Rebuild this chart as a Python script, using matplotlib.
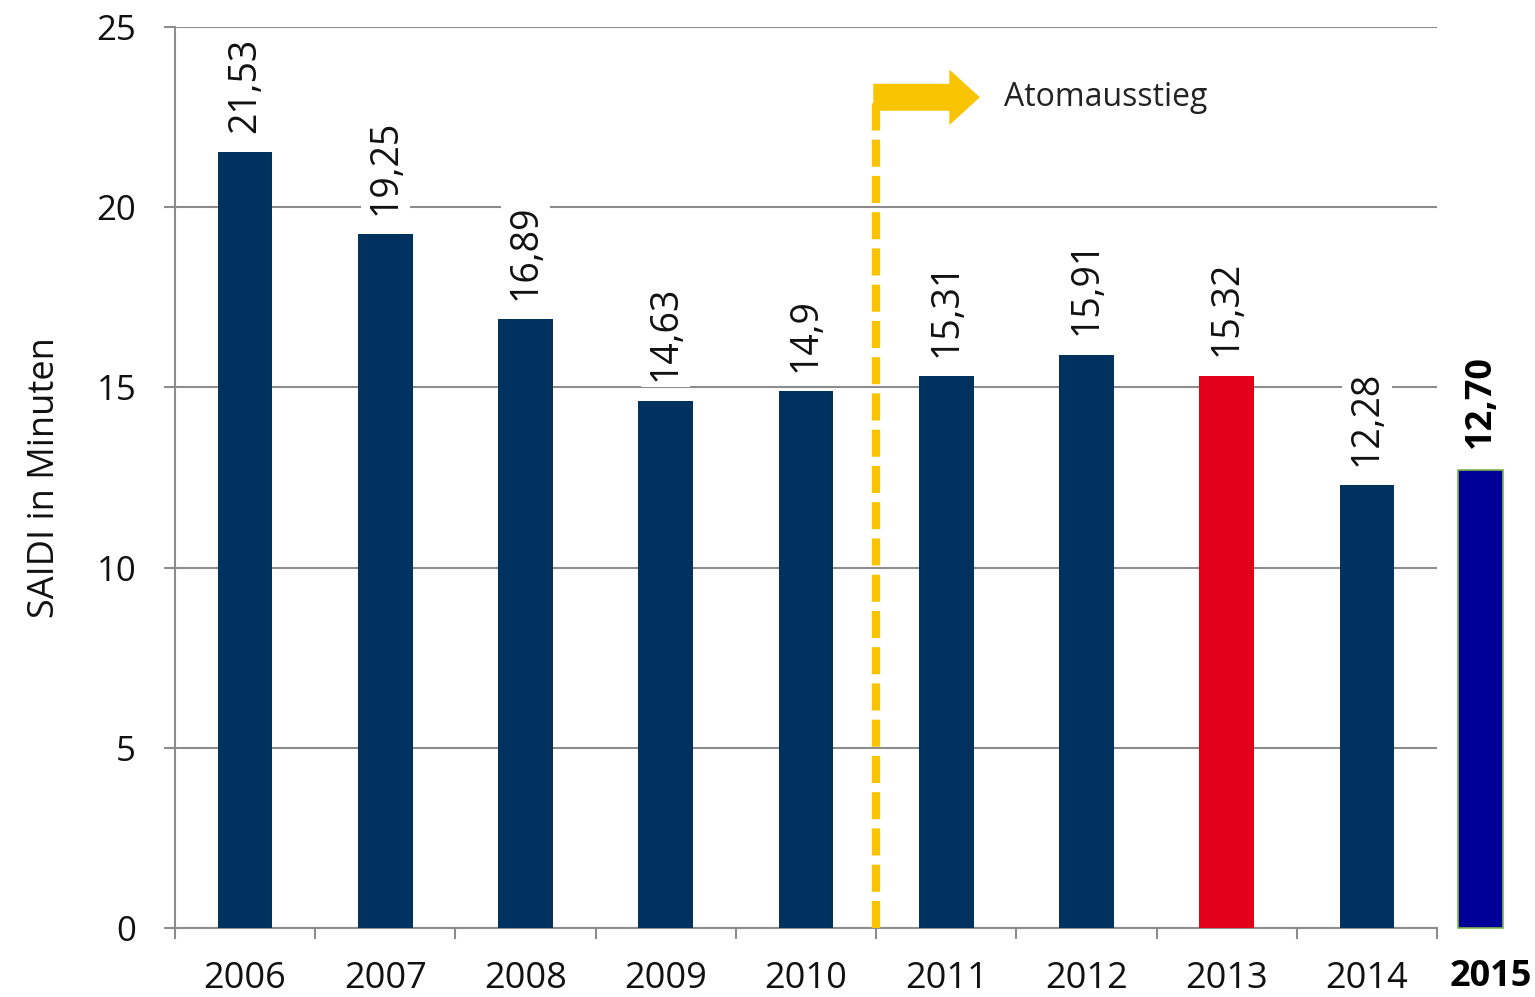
import numpy as np
import matplotlib.pyplot as plt

years = ['2006', '2007', '2008', '2009', '2010', '2011', '2012', '2013', '2014']
saidi = [21.53, 19.25, 16.89, 14.63, 14.9, 15.31, 15.91, 15.32, 12.28]
value_labels = ['21,53', '19,25', '16,89', '14,63', '14,9', '15,31', '15,91', '15,32', '12,28']
new_year = '2015'
new_value = 12.70
new_label = '12,70'

plt.rcParams['font.family'] = ['Open Sans', 'DejaVu Sans']

fig = plt.figure(figsize=(15.35, 9.97), dpi=100)
ax = fig.add_axes([175 / 1535, 1 - 928 / 997, (1437 - 175) / 1535, (928 - 27) / 997])

x = np.arange(len(years))
colors = ['#00325F'] * len(years)
colors[years.index('2013')] = '#E2001A'
ax.bar(x, saidi, width=0.39, color=colors, zorder=3)

for xi, v, lab in zip(x, saidi, value_labels):
    ax.annotate(lab, (xi, v), xytext=(0, 14), textcoords='offset points',
                rotation=90, ha='center', va='bottom', fontsize=27, color='#111111',
                bbox=dict(boxstyle='square,pad=0.15', fc='white', ec='none'), zorder=4)

# 2015 sits outside the plotting area
xn = 8.81
ax.bar([xn], [new_value], width=0.32, color='#000099', edgecolor='#7AB648',
       linewidth=1.2, zorder=3, clip_on=False)
ax.annotate(new_label, (xn, new_value), xytext=(0, 16), textcoords='offset points',
            rotation=90, ha='center', va='bottom', fontsize=26, fontweight='bold',
            color='black', annotation_clip=False)
ax.text(8.88, -1.36, new_year, ha='center', va='center', fontsize=26, fontweight='bold')

# Atomausstieg marker
ax.plot([4.5, 4.5], [0, 23.1], color='#F8C400', lw=6, ls=(0, (3.25, 1.1)), zorder=5)
ax.annotate('', xy=(5.24, 23.05), xytext=(4.48, 23.05),
            arrowprops=dict(arrowstyle='simple,head_length=1.1,head_width=2.0,tail_width=0.97',
                            mutation_scale=20, fc='#F8C400', ec='none', shrinkA=0, shrinkB=0),
            zorder=5)
ax.text(5.41, 23.05, 'Atomausstieg', ha='left', va='center', fontsize=23, color='#222222')

ax.set_xlim(-0.5, 8.5)
ax.set_ylim(0, 25)
ax.set_yticks(np.arange(0, 26, 5))
ax.yaxis.grid(True, color='#8C8C8C', lw=1.5, zorder=0)
ax.set_axisbelow(True)

ax.set_xticks(x)
ax.set_xticklabels(years)
ax.set_xticks(np.arange(-0.5, 9, 1), minor=True)
ax.tick_params(axis='x', which='major', length=0, pad=24, labelsize=26, labelcolor='#111111')
ax.tick_params(axis='x', which='minor', length=8, width=1.5, color='#8C8C8C', direction='out')
ax.tick_params(axis='y', length=8, width=1.5, color='#8C8C8C', pad=20, labelsize=25,
               labelcolor='#111111')

for side in ['top', 'right']:
    ax.spines[side].set_visible(False)
for side in ['left', 'bottom']:
    ax.spines[side].set_color('#8C8C8C')
    ax.spines[side].set_linewidth(1.5)

ax.set_ylabel('SAIDI in Minuten', fontsize=26, color='#111111', labelpad=24)

fig.savefig('out.png', dpi=100)
